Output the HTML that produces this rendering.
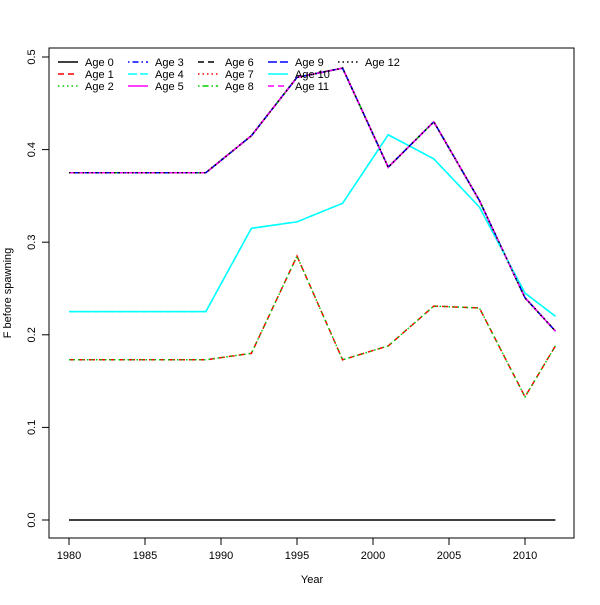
<!DOCTYPE html>
<html><head><meta charset="utf-8"><style>
body{margin:0;background:#fff}
svg text{font-family:"Liberation Sans",sans-serif;font-size:11px;fill:#000}
</style></head><body>
<svg id="chart" width="600" height="600" xmlns="http://www.w3.org/2000/svg">
<rect x="0" y="0" width="600" height="600" fill="#fff"/>
<rect x="49" y="48" width="525" height="490" fill="none" stroke="#000"/>
<g id="axes"></g><g id="series"></g><g id="legend"></g>
<text x="312" y="583" text-anchor="middle">Year</text>
<text transform="translate(11,293) rotate(-90)" text-anchor="middle">F before spawning</text>
</svg>
<script>
const years=[1980,1989,1992,1995,1998,2001,2004,2007,2010,2012];
const groupTop=[0.375,0.375,0.415,0.478,0.488,0.381,0.430,0.345,0.240,0.204];
const groupMid=[0.225,0.225,0.315,0.322,0.342,0.416,0.390,0.338,0.245,0.220];
const groupLow=[0.173,0.173,0.180,0.285,0.173,0.188,0.231,0.229,0.133,0.188];
const groupZero=[0,0,0,0,0,0,0,0,0,0];
const ages=[0,1,2,3,4,5,6,7,8,9,10,11,12];
const ageGroup=["zero","low","low","top","mid","top","top","top","top","top","mid","top","top"];
const xTicks=[1980,1985,1990,1995,2000,2005,2010];
const yTicks=[0.0,0.1,0.2,0.3,0.4,0.5];
const groups={zero:groupZero,low:groupLow,mid:groupMid,top:groupTop};
const cols=["#000","#ff0000","#00cd00","#0000ff","#00ffff","#ff00ff"];
const dashes=["","6,4","1.5,3","1.5,3,6,3","9,3"];
const X=y=>69+(y-1980)*15.2;
const Y=v=>520-v*926;
const NS="http://www.w3.org/2000/svg";
function mk(t,a,p){const e=document.createElementNS(NS,t);for(const k in a)e.setAttribute(k,a[k]);p.appendChild(e);return e;}
const ax=document.getElementById('axes');
xTicks.forEach(t=>{const l=mk('line',{x1:X(t),x2:X(t),y1:538,y2:545,stroke:'#000'},ax);


const tx=mk('text',{x:X(t),y:559,'text-anchor':'middle'},ax);tx.textContent=t;

});
yTicks.forEach(t=>{const l=mk('line',{x1:42,x2:49,y1:Y(t),y2:Y(t),stroke:'#000'},ax);


const tx=mk('text',{transform:`translate(35,${Y(t)}) rotate(-90)`,'text-anchor':'middle'},ax);tx.textContent=t.toFixed(1);

});
const sg=document.getElementById('series');
ages.forEach(a=>{const d=groups[ageGroup[a]];
const p=mk('polyline',{points:years.map((y,i)=>X(y)+','+Y(d[i])).join(' '),fill:'none',stroke:cols[a%6],'stroke-width':1.5,'stroke-dasharray':dashes[a%5]},sg);

});
const lg=document.getElementById('legend');
ages.forEach(a=>{const c=Math.floor(a/3),r=a%3;const x0=58+c*70,y0=62+r*12;
const l=mk('line',{x1:x0,x2:x0+20,y1:y0,y2:y0,stroke:cols[a%6],'stroke-width':1.5,'stroke-dasharray':dashes[a%5]},lg);


const t=mk('text',{x:x0+27,y:y0+4},lg);t.textContent='Age '+a;

});
</script>
</body></html>
